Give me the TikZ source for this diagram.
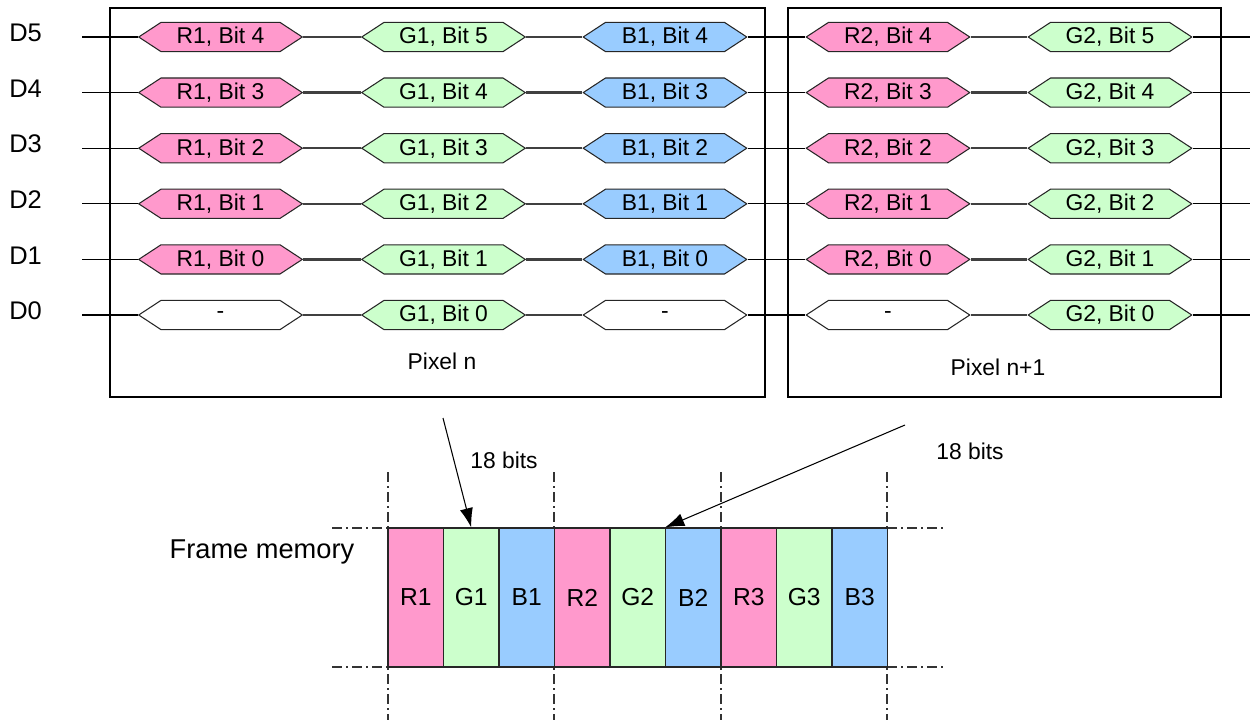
\documentclass[tikz,border=0pt]{standalone}
\usepackage{fontspec}
\setmainfont{Liberation Sans}
\usetikzlibrary{arrows.meta,positioning}

\definecolor{redbit}{HTML}{FF99CC}
\definecolor{greenbit}{HTML}{CCFFCC}
\definecolor{bluebit}{HTML}{99CCFF}

\tikzset{
  bit/.style={minimum width=3.3cm, minimum height=0.62cm, inner sep=0pt,
    font=\fontsize{13}{15}\selectfont,
    path picture={
      \filldraw[fill=#1, draw=black!85, line width=0.6pt]
        ([xshift=0.4pt]path picture bounding box.west)
        -- ([xshift=0.46cm,yshift=-0.5pt]path picture bounding box.north west)
        -- ([xshift=-0.46cm,yshift=-0.5pt]path picture bounding box.north east)
        -- ([xshift=-0.4pt]path picture bounding box.east)
        -- ([xshift=-0.46cm,yshift=0.5pt]path picture bounding box.south east)
        -- ([xshift=0.46cm,yshift=0.5pt]path picture bounding box.south west)
        -- cycle;
    }},
  cell/.style={draw=black!85, line width=0.6pt, minimum width=1.11cm,
    minimum height=2.78cm, inner sep=0pt, font=\fontsize{14}{16}\selectfont},
  dlabel/.style={anchor=west, inner sep=0pt, font=\fontsize{14.5}{16}\selectfont},
  bus/.style={line width=1.3pt, black!75},
  wire/.style={line width=0.6pt},
  guide/.style={line width=0.6pt, black!80, dash pattern=on 5.5pt off 2.5pt on 1pt off 2.5pt},
  ptr/.style={line width=0.6pt, -{Latex[length=11pt,width=7.5pt]}}
}

\begin{document}
\begin{tikzpicture}[x=0.02cm, y=-0.02cm]
        \useasboundingbox (0,0) rectangle (1255,720);
        % pixel frames
        \draw[line width=0.6pt] (110,8) rectangle (765,397);
        \draw[line width=0.6pt] (788,8) rectangle (1221,397);
        \node[font=\fontsize{13}{15}\selectfont] (pixn) at (442,361) {Pixel n};
        \node[font=\fontsize{13}{15}\selectfont] (pixnn) at (998,367) {Pixel n+1};
        % data lines D5..D1
        \foreach \k in {1,...,5} {
          \pgfmathtruncatemacro{\lo}{\k-1}
          \pgfmathsetmacro{\y}{315-55.6*\k}
          \node[dlabel] (d\k) at (9,\y-4) {D\k};
          \coordinate (s\k) at (82,\y);
          \coordinate (e\k) at (1250,\y);
          \node[bit=redbit] (ra\k) at (220.5,\y) {R1, Bit \lo};
          \node[bit=greenbit] (ga\k) at (443.5,\y) {G1, Bit \k};
          \node[bit=bluebit] (ba\k) at (665,\y) {B1, Bit \lo};
          \node[bit=redbit] (rb\k) at (888,\y) {R2, Bit \lo};
          \node[bit=greenbit] (gb\k) at (1110,\y) {G2, Bit \k};
          \draw[wire] (s\k) -- (ra\k.west);
          \draw[bus] (ra\k.east) -- (ga\k.west);
          \draw[bus] (ga\k.east) -- (ba\k.west);
          \draw[wire] (ba\k.east) -- (rb\k.west);
          \draw[bus] (rb\k.east) -- (gb\k.west);
          \draw[wire] (gb\k.east) -- (e\k);
        }
        % data line D0
        \node[dlabel] (d0) at (9,311) {D0};
        \coordinate (s0) at (82,315);
        \coordinate (e0) at (1250,315);
        \node[bit=white] (ra0) at (220.5,315) {-};
        \node[bit=greenbit] (ga0) at (443.5,315) {G1, Bit 0};
        \node[bit=white] (ba0) at (665,315) {-};
        \node[bit=white] (rb0) at (888,315) {-};
        \node[bit=greenbit] (gb0) at (1110,315) {G2, Bit 0};
        \draw[wire] (s0) -- (ra0.west);
        \draw[bus] (ra0.east) -- (ga0.west);
        \draw[bus] (ga0.east) -- (ba0.west);
        \draw[wire] (ba0.east) -- (rb0.west);
        \draw[bus] (rb0.east) -- (gb0.west);
        \draw[wire] (gb0.east) -- (e0);
        % guide lines
        \foreach \x in {388,554,721,887}
          \draw[guide] (\x,472) -- (\x,720);
        \draw[guide] (332,528) -- (388,528);
        \draw[guide] (332,667) -- (388,667);
        \draw[guide] (887,528) -- (943,528);
        \draw[guide] (887,667) -- (943,667);
        % frame memory
        \node[font=\fontsize{15.5}{17}\selectfont] (fm) at (262,552) {Frame memory};
        \foreach \i/\txt/\col in {1/R1/redbit, 2/G1/greenbit, 3/B1/bluebit,
                                  4/R2/redbit, 5/G2/greenbit, 6/B2/bluebit,
                                  7/R3/redbit, 8/G3/greenbit, 9/B3/bluebit}
          \node[cell, fill=\col] (m\i) at ({388+55.5*(\i-0.5)},597.5) {\txt};
        % arrows
        \coordinate (p1) at (443,418);
        \coordinate (p2) at (905,425);
        \draw[ptr] (p1) -- (m2.north);
        \draw[ptr] (p2) -- (m6.north west);
        \node[font=\fontsize{13}{15}\selectfont] (bits1) at (504,460) {18 bits};
        \node[font=\fontsize{13}{15}\selectfont] (bits2) at (970,451) {18 bits};
\end{tikzpicture}
\end{document}
